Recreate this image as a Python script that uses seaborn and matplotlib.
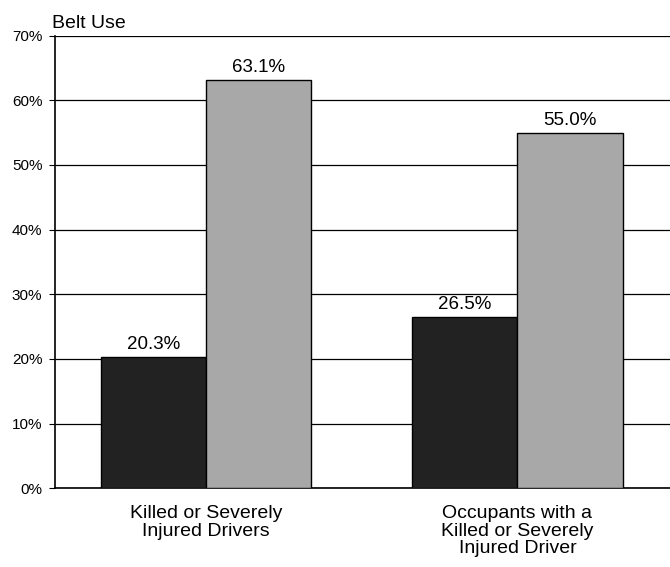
import matplotlib
matplotlib.use("Agg")
import matplotlib.pyplot as plt
import seaborn as sns
import pandas as pd

categories = ["Killed or Severely\nInjured Drivers", "Occupants with a\nKilled or Severely\nInjured Driver"]
series_names = ["Series A", "Series B"]
series_a = [20.3, 26.5]
series_b = [63.1, 55.0]
yticks = [0, 10, 20, 30, 40, 50, 60, 70]
colors = ["#222222", "#a8a8a8"]

df = pd.DataFrame({
    "cat": categories * 2,
    "series": [series_names[0]] * 2 + [series_names[1]] * 2,
    "val": series_a + series_b,
})

sns.set_style("white")
plt.rcParams["font.family"] = ["Liberation Sans", "DejaVu Sans"]
plt.rcParams["text.color"] = "black"
plt.rcParams["xtick.color"] = "black"
plt.rcParams["ytick.color"] = "black"

fig = plt.figure(figsize=(6.7, 5.67), dpi=100)
ax = fig.add_axes([0.082, 0.139, 0.918, 0.798])

sns.barplot(data=df, x="cat", y="val", hue="series", palette=colors,
            width=0.675, edgecolor="black", linewidth=1.0, ax=ax, legend=False,
            saturation=1, zorder=3)

for c in ax.containers:
    ax.bar_label(c, labels=[f"{v:.1f}%" for v in c.datavalues], padding=3,
                 fontsize=13.5, color="black")

ax.set_ylim(0, 70)
ax.set_xlim(-0.486, 1.49)
ax.set_yticks(yticks)
ax.set_yticklabels([f"{t}%" for t in yticks], fontsize=11)
ax.tick_params(axis="y", length=4, width=0.8, color="black", pad=5, direction="out", left=True)
ax.tick_params(axis="x", length=0, labelsize=14, pad=12)
for lab in ax.get_xticklabels():
    lab.set_horizontalalignment("center")
    lab.set_linespacing(1.05)
ax.set_xlabel("")
ax.set_ylabel("")
ax.yaxis.grid(True, color="black", linewidth=0.9, zorder=0)
ax.set_axisbelow(True)
for s in ["top", "right"]:
    ax.spines[s].set_visible(False)
ax.spines["left"].set_color("black")
ax.spines["left"].set_linewidth(1.2)
ax.spines["bottom"].set_color("black")
ax.spines["bottom"].set_linewidth(1.2)

ax.text(-0.004, 1.008, "Belt Use", transform=ax.transAxes, fontsize=14, ha="left", va="bottom")

fig.savefig("out.png", dpi=100)
